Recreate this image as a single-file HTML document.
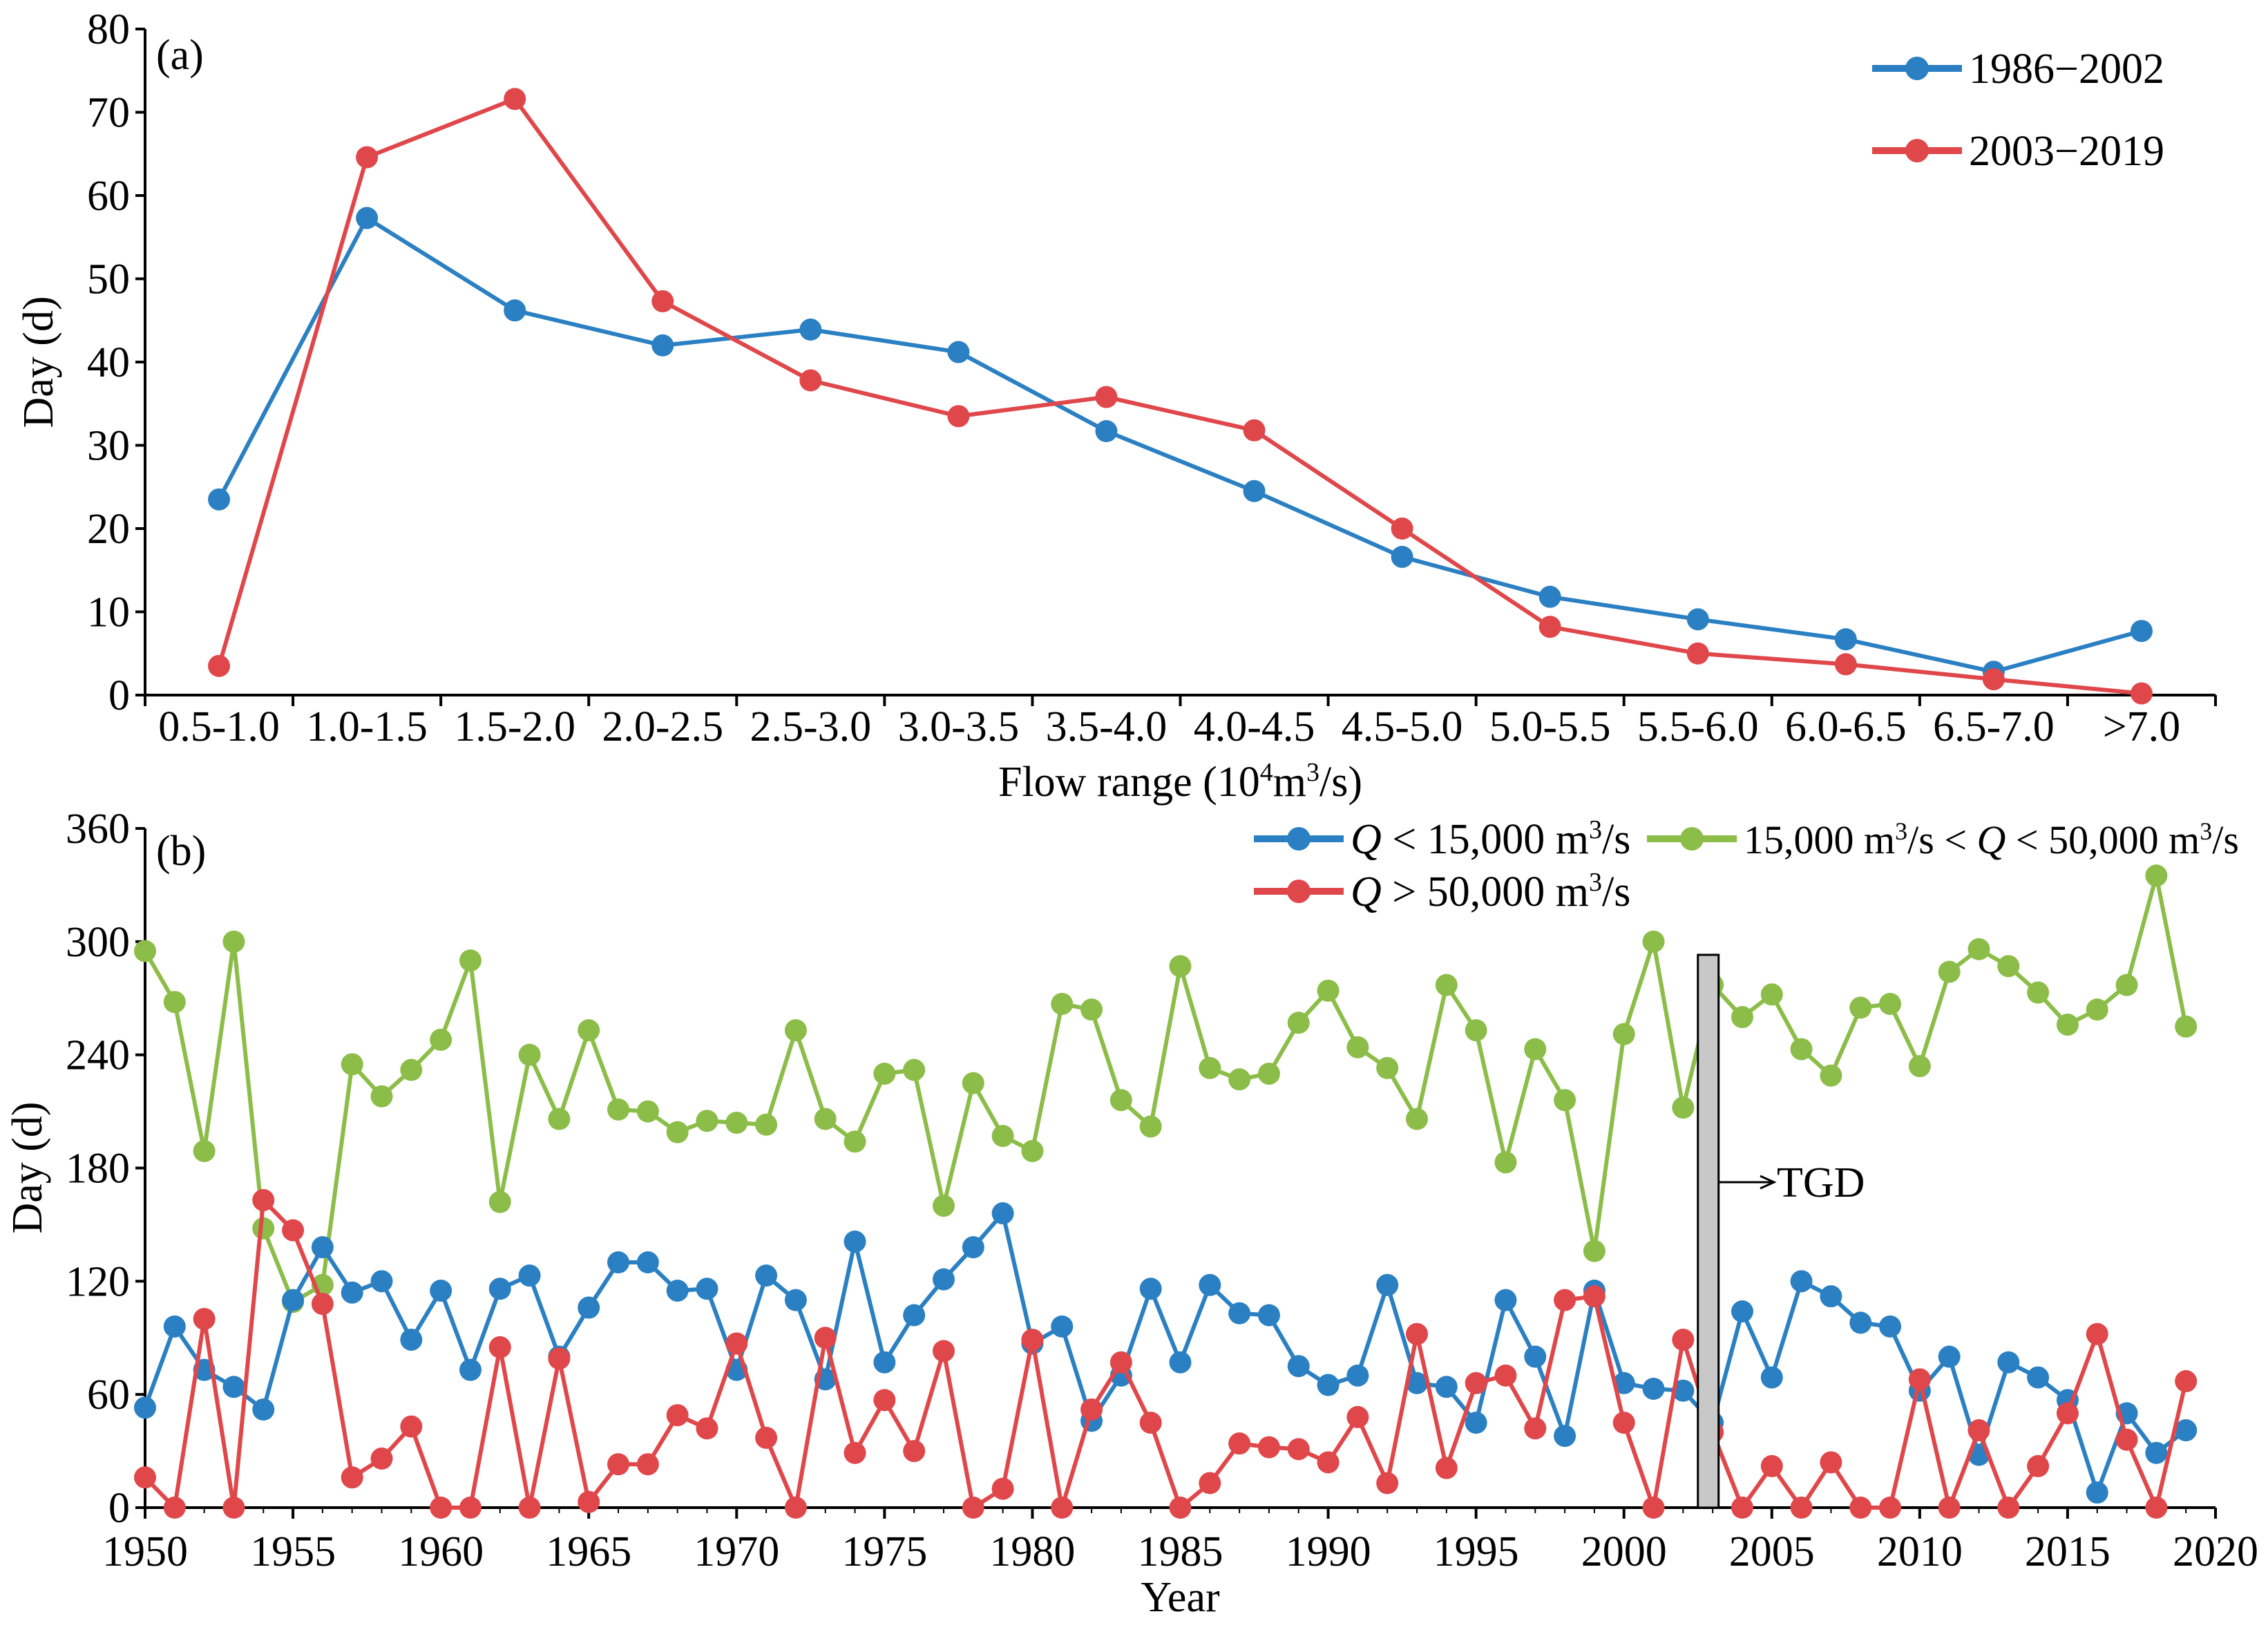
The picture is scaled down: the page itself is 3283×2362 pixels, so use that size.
<!DOCTYPE html>
<html><head><meta charset="utf-8"><style>
html,body{margin:0;padding:0;background:#fff}
svg{display:block}
text{font-family:"Liberation Serif",serif;fill:#000}
</style></head><body>
<svg id="chart" width="3283" height="2362" viewBox="0 0 3283 2362" xmlns="http://www.w3.org/2000/svg"></svg>
<script>
const catsA=["0.5-1.0","1.0-1.5","1.5-2.0","2.0-2.5","2.5-3.0","3.0-3.5","3.5-4.0","4.0-4.5","4.5-5.0","5.0-5.5","5.5-6.0","6.0-6.5","6.5-7.0",">7.0"];
const serA1=[23.5,57.3,46.2,42.0,43.9,41.2,31.7,24.5,16.6,11.8,9.1,6.7,2.8,7.7];
const serA2=[3.5,64.6,71.6,47.3,37.8,33.5,35.8,31.8,20.0,8.2,5.0,3.7,1.9,0.2];
const ticksA=[0,10,20,30,40,50,60,70,80];
const years=[];for(let y=1950;y<=2019;y++)years.push(y);
const blueB=[53,96,73,64,52,110,138,114,120,89,115,73,116,123,80,106,130,130,115,116,73,123,110,68,141,77,102,121,138,156,87,96,46,70,116,77,118,103,102,75,65,70,118,66,64,45,110,80,38,115,66,63,62,45,104,69,120,112,98,96,62,80,28,77,69,57,8,50,29,41];
const redB=[16,0,100,0,163,147,108,16,26,43,0,0,85,0,79,3,23,23,49,42,87,37,0,90,29,57,30,83,0,10,89,0,52,77,45,0,13,34,32,31,24,48,13,92,21,66,70,42,110,112,45,0,89,40,0,22,0,24,0,0,68,0,41,0,22,50,92,36,0,67];
const greenB=[295,268,189,300,148,109,118,235,218,232,248,290,162,240,206,253,211,210,199,205,204,203,253,206,194,230,232,160,225,197,189,267,264,216,202,287,233,227,230,257,274,244,233,206,277,253,183,243,216,136,251,300,212,277,260,272,243,229,265,267,234,284,296,287,273,256,264,277,335,255];
const ticksBy=[0,60,120,180,240,300,360];
const ticksBx=[1950,1955,1960,1965,1970,1975,1980,1985,1990,1995,2000,2005,2010,2015,2020];

const NS="http://www.w3.org/2000/svg";
const svg=document.getElementById('chart');
function mk(tag,attrs,parent){const e=document.createElementNS(NS,tag);for(const k in attrs)e.setAttribute(k,attrs[k]);(parent||svg).appendChild(e);return e;}
const BLUE="#2a80c2",RED="#e0474a",GREEN="#8bbd48";
const FS=62;
const L=210,R=3207;
const aY0=1006,aY1=42;
const ay=v=>aY0-(v/80)*(aY0-aY1);
const cw=(R-L)/catsA.length;
const ax=i=>L+cw*(i+0.5);
const gA=mk('g',{});


let e;
e=mk('line',{x1:L,y1:aY1,x2:L,y2:aY0,stroke:'#000','stroke-width':4},gA);

e=mk('line',{x1:L-12,y1:aY0,x2:R,y2:aY0,stroke:'#000','stroke-width':4},gA);

ticksA.forEach(t=>{
  mk('line',{x1:L-14,y1:ay(t),x2:L,y2:ay(t),stroke:'#000','stroke-width':4},gA);
  e=mk('text',{x:L-22,y:ay(t)+21,'text-anchor':'end','font-size':FS},gA);e.textContent=t;
  
});
for(let i=0;i<=catsA.length;i++){mk('line',{x1:L+cw*i,y1:aY0,x2:L+cw*i,y2:aY0+16,stroke:'#000','stroke-width':4},gA);}
catsA.forEach((c,i)=>{e=mk('text',{x:ax(i),y:aY0+66,'text-anchor':'middle','font-size':FS},gA);e.textContent=c;
  });
e=mk('text',{x:(L+R)/2,y:1152,'text-anchor':'middle','font-size':FS},gA);
e.innerHTML='Flow range (10<tspan dy="-22" font-size="38">4</tspan><tspan dy="22">m</tspan><tspan dy="-22" font-size="38">3</tspan><tspan dy="22">/s)</tspan>';

e=mk('text',{x:0,y:0,'text-anchor':'middle','font-size':FS,transform:'translate(76,524) rotate(-90)'},gA);e.textContent='Day (d)';

e=mk('text',{x:226,y:100,'font-size':FS},gA);e.textContent='(a)';

function series(g,xs,vals,xf,yf,col,name){
  const p=vals.map((v,i)=>xf(xs[i])+','+yf(v)).join(' ');
  const pl=mk('polyline',{points:p,fill:'none',stroke:col,'stroke-width':6,'stroke-linejoin':'round'},g);
  
  vals.forEach((v,i)=>{const c=mk('circle',{cx:xf(xs[i]),cy:yf(v),r:16,fill:col},g);
    });
}
const idx=catsA.map((c,i)=>i);
series(gA,idx,serA1,ax,ay,BLUE,'series-1986-2002');
series(gA,idx,serA2,ax,ay,RED,'series-2003-2019');
function legend(g,x,y,col,html,name,fs){
  const lg=mk('g',{},g);
  mk('line',{x1:x,y1:y,x2:x+130,y2:y,stroke:col,'stroke-width':10},lg);
  mk('circle',{cx:x+65,cy:y,r:17,fill:col},lg);
  const t=mk('text',{x:x+140,y:y+21,'font-size':fs||FS},lg);t.innerHTML=html;
}
legend(gA,2710,99,BLUE,'1986−2002','legend-1986-2002');
legend(gA,2710,218,RED,'2003−2019','legend-2003-2019');
const bY0=2182,bY1=1199;
const by=v=>bY0-(v/360)*(bY0-bY1);
const bx=y=>L+(y-1950)/70*(R-L);
const gB=mk('g',{});


e=mk('line',{x1:L,y1:bY1,x2:L,y2:bY0,stroke:'#000','stroke-width':4},gB);

e=mk('line',{x1:L,y1:bY0,x2:R,y2:bY0,stroke:'#000','stroke-width':4},gB);

ticksBy.forEach(t=>{
  mk('line',{x1:L-14,y1:by(t),x2:L,y2:by(t),stroke:'#000','stroke-width':4},gB);
  e=mk('text',{x:L-22,y:by(t)+21,'text-anchor':'end','font-size':FS},gB);e.textContent=t;
  
});
for(let y=1950;y<=2020;y++){mk('line',{x1:bx(y),y1:bY0,x2:bx(y),y2:bY0+(y%5?8:16),stroke:'#000','stroke-width':(y%5?2:4)},gB);}
ticksBx.forEach(t=>{e=mk('text',{x:bx(t),y:bY0+84,'text-anchor':'middle','font-size':FS},gB);e.textContent=t;
  });
e=mk('text',{x:(L+R)/2,y:2332,'text-anchor':'middle','font-size':FS},gB);e.textContent='Year';

e=mk('text',{x:0,y:0,'text-anchor':'middle','font-size':FS,transform:'translate(60,1690) rotate(-90)'},gB);e.textContent='Day (d)';

e=mk('text',{x:226,y:1252,'font-size':FS},gB);e.textContent='(b)';

series(gB,years,greenB,bx,by,GREEN,'q-15000-50000');
series(gB,years,blueB,bx,by,BLUE,'q-below-15000');
series(gB,years,redB,bx,by,RED,'q-above-50000');
e=mk('rect',{x:bx(2002.5),y:by(293),width:bx(2003.2)-bx(2002.5),height:by(0)-by(293),fill:'#c8c8c8',stroke:'#000','stroke-width':3},gB);

e=mk('line',{x1:bx(2003.2),y1:1711,x2:2565,y2:1711,stroke:'#000','stroke-width':3},gB);

mk('polyline',{points:'2548,1702 2568,1711 2548,1720',fill:'none',stroke:'#000','stroke-width':3},gB);
e=mk('text',{x:2572,y:1732,'font-size':FS},gB);e.textContent='TGD';

const sup='<tspan dy="-22" font-size="38">3</tspan><tspan dy="22">/s</tspan>';
const supS='<tspan dy="-20" font-size="36">3</tspan><tspan dy="20">/s</tspan>';
legend(gB,1815,1214,BLUE,'<tspan font-style="italic">Q</tspan> &lt; 15,000 m'+sup,'legend-q-below-15000');
legend(gB,2384,1214,GREEN,'15,000 m'+supS+' &lt; <tspan font-style="italic">Q</tspan> &lt; 50,000 m'+supS,'legend-q-15000-50000',58);
legend(gB,1815,1290,RED,'<tspan font-style="italic">Q</tspan> &gt; 50,000 m'+sup,'legend-q-above-50000');
</script>
</body></html>
